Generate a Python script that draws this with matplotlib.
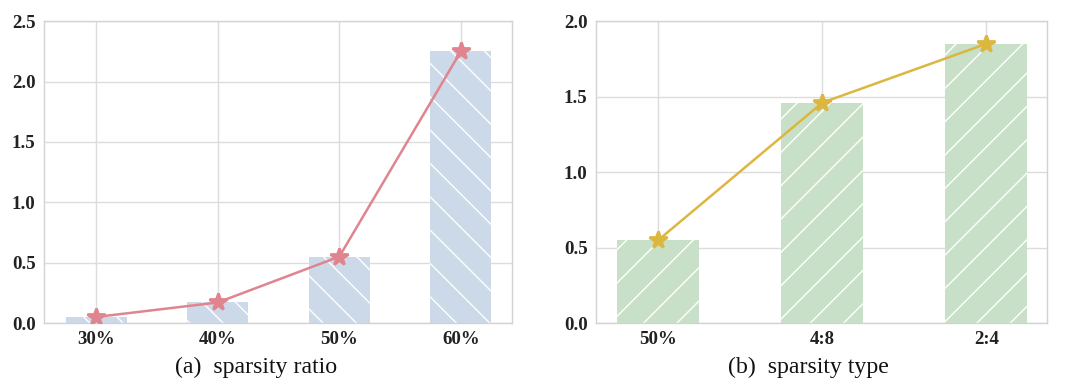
import numpy as np
import matplotlib
matplotlib.use('Agg')
from matplotlib import pyplot as plt

# Data
ratioLabels = ['30%', '40%', '50%', '60%']
ratioValues = [0.05, 0.17, 0.55, 2.25]

typeLabels = ['50%', '4:8', '2:4']
typeValues = [0.55, 1.46, 1.85]

plt.rcParams['font.family'] = ['Liberation Serif', 'DejaVu Serif']
plt.rcParams['hatch.linewidth'] = 0.5


def styleAxes(ax, ymax, step):
    ax.set_ylim(0, ymax)
    ax.set_yticks(np.arange(0, ymax + 0.001, step))
    ax.set_yticklabels([f'{v:.1f}' for v in np.arange(0, ymax + 0.001, step)])
    ax.grid(True, color='#dcdcdc', linewidth=0.5)
    ax.set_axisbelow(True)
    for spine in ax.spines.values():
        spine.set_color('#d2d2d2')
        spine.set_linewidth(0.5)
    ax.tick_params(length=0, pad=3, labelsize=6.8)
    for lab in ax.get_xticklabels() + ax.get_yticklabels():
        lab.set_fontweight('bold')
        lab.set_color('#222222')


def main():
    fig = plt.figure(figsize=(5.4, 1.94), dpi=200)

    # (a) sparsity ratio
    ax1 = fig.add_axes([0.0407, 0.1675, 0.4333, 0.778])
    x1 = np.arange(len(ratioLabels))
    ax1.bar(x1, ratioValues, width=0.5, color='#cbd9e8', edgecolor='white',
            linewidth=0, hatch='\\\\')
    ax1.plot(x1, ratioValues, color='#e0848f', linewidth=0.9, marker='*',
             markersize=6.5, zorder=3)
    ax1.set_xticks(x1)
    ax1.set_xticklabels(ratioLabels)
    ax1.set_xlim(-0.43, 3.42)
    styleAxes(ax1, 2.5, 0.5)

    # (b) sparsity type
    ax2 = fig.add_axes([0.5519, 0.1675, 0.4176, 0.778])
    x2 = np.arange(len(typeLabels))
    ax2.bar(x2, typeValues, width=0.5, color='#c9e0c8', edgecolor='white',
            linewidth=0, hatch='//')
    ax2.plot(x2, typeValues, color='#dcb73f', linewidth=0.9, marker='*',
             markersize=6.5, zorder=3)
    ax2.set_xticks(x2)
    ax2.set_xticklabels(typeLabels)
    ax2.set_xlim(-0.38, 2.37)
    styleAxes(ax2, 2.0, 0.5)

    fig.text(256 / 1080, 1 - 367 / 388, '(a)  sparsity ratio', ha='center',
             va='center', fontsize=8.6, color='#111111')
    fig.text(808 / 1080, 1 - 367 / 388, '(b)  sparsity type', ha='center',
             va='center', fontsize=8.6, color='#111111')

    fig.savefig('out.png', dpi=200)


if __name__ == '__main__':
    main()
